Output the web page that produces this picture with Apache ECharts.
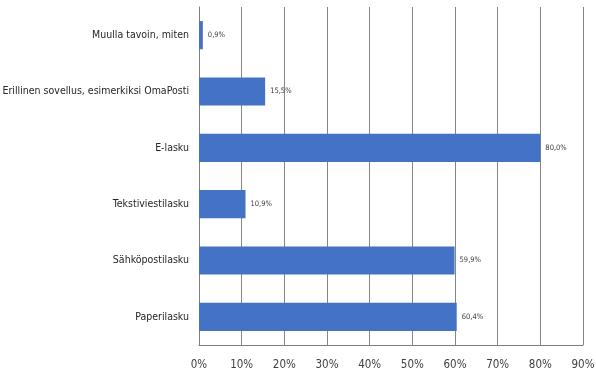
<!DOCTYPE html>
<html><head><meta charset="utf-8">
<script src="https://cdn.jsdelivr.net/npm/echarts@6/dist/echarts.min.js"></script>
<style>html,body{margin:0;padding:0;background:#fff}#c{width:596px;height:381px}</style>
</head><body><div id="c"></div>
<script>
var categories = ["Paperilasku", "Sähköpostilasku", "Tekstiviestilasku", "E-lasku", "Erillinen sovellus, esimerkiksi OmaPosti", "Muulla tavoin, miten"];
var values = [60.4, 59.9, 10.9, 80.0, 15.5, 0.9];
var tickValues = [0, 10, 20, 30, 40, 50, 60, 70, 80, 90];
var font = "'DejaVu Sans Condensed', sans-serif";
var chart = echarts.init(document.getElementById('c'));
chart.setOption({
  animation: false,
  grid: {left: 199, right: 13, top: 7, bottom: 36, containLabel: false, outerBoundsMode: 'none'},
  xAxis: {
    type: 'value', min: 0, max: 90, interval: 10,
    axisLine: {show: true, lineStyle: {color: '#7f7f7f', width: 1}},
    axisTick: {show: false},
    splitLine: {show: true, lineStyle: {color: '#868686', width: 1}},
    axisLabel: {color: '#404040', fontSize: 11.5, fontFamily: font, margin: 14,
      formatter: function(v){ return v + '%'; }}
  },
  yAxis: {
    type: 'category', data: categories,
    axisLine: {show: true, lineStyle: {color: '#7f7f7f', width: 1}},
    axisTick: {show: false},
    axisLabel: {color: '#262626', fontSize: 10.5, fontFamily: font, margin: 10}
  },
  series: [{
    type: 'bar', data: values, barCategoryGap: '50%',
    itemStyle: {color: '#4472C4'},
    label: {show: true, position: 'right', distance: 5, color: '#404040', fontSize: 7.5, fontFamily: font,
      formatter: function(p){ return p.value.toFixed(1).replace('.', ',') + '%'; }}
  }]
});
</script></body></html>
